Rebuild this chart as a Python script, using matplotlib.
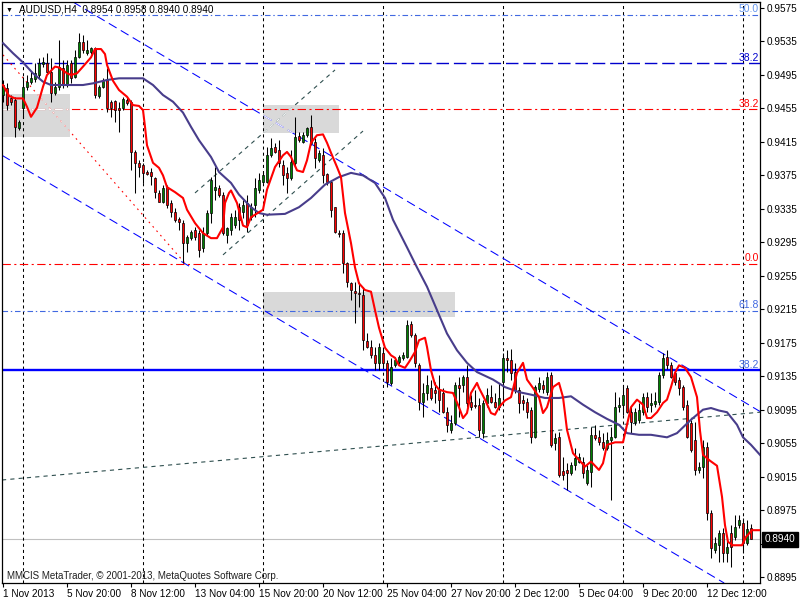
import matplotlib
matplotlib.use("Agg")
import matplotlib.pyplot as plt
import matplotlib.transforms as mtransforms
from matplotlib.patches import Rectangle

plt.rcParams["font.family"] = ["Liberation Sans", "DejaVu Sans"]
plt.rcParams["lines.scale_dashes"] = False

# --- AUDUSD H4 candles ---
opens = [
    .9471, .9479, .9467, .9465, .9432, .9456, .9481, .9487, .9490, .9495,
    .9508, .9509, .9499, .9473, .9481, .9503, .9483, .9509, .9493, .9516,
    .9534, .9521, .9522, .9527, .9470, .9481, .9489, .9463, .9464, .9456,
    .9456, .9465, .9463, .9403, .9390, .9387, .9379, .9379, .9372, .9354,
    .9343, .9361, .9342, .9331, .9323, .9318, .9294, .9300, .9310, .9306,
    .9288, .9306, .9330, .9358, .9360, .9352, .9304, .9310, .9316, .9337,
    .9331, .9342, .9325, .9340, .9358, .9367, .9367, .9399, .9409, .9405,
    .9387, .9378, .9372, .9390, .9422, .9415, .9423, .9433, .9415, .9393,
    .9399, .9377, .9367, .9337, .9306, .9306, .9270, .9246, .9237, .9234,
    .9232, .9177, .9170, .9160, .9151, .9163, .9151, .9127, .9148, .9152,
    .9157, .9158, .9197, .9184, .9148, .9104, .9115, .9121, .9119, .9119,
    .9115, .9092, .9071, .9079, .9125, .9125, .9134, .9104, .9101, .9101,
    .9067, .9103, .9110, .9104, .9098, .9128, .9157, .9154, .9140, .9119,
    .9107, .9104, .9095, .9062, .9120, .9125, .9116, .9137, .9055, .9062,
    .9022, .9023, .9019, .9029, .9033, .9033, .9007, .9021, .9065, .9062,
    .9056, .9049, .9059, .9062, .9098, .9101, .9121, .9092, .9080, .9083,
    .9092, .9110, .9101, .9102, .9104, .9137, .9158, .9148, .9139, .9131,
    .9122, .9101, .9079, .9059, .9023, .9027, .9050, .8972, .8927, .8933,
    .8948, .8924, .8948, .8943, .8957, .8960, .8936, .8954,
]
highs = [
    .9489, .9485, .9471, .9469, .9441, .9493, .9495, .9499, .9509, .9515,
    .9516, .9521, .9515, .9487, .9537, .9513, .9513, .9513, .9525, .9545,
    .9543, .9537, .9528, .9528, .9483, .9491, .9503, .9465, .9465, .9463,
    .9469, .9469, .9465, .9405, .9393, .9390, .9381, .9384, .9373, .9358,
    .9364, .9364, .9346, .9336, .9325, .9322, .9304, .9310, .9313, .9310,
    .9313, .9334, .9373, .9385, .9364, .9355, .9313, .9330, .9334, .9342,
    .9346, .9352, .9342, .9372, .9378, .9379, .9409, .9420, .9414, .9417,
    .9393, .9385, .9405, .9445, .9427, .9427, .9433, .9447, .9420, .9405,
    .9408, .9378, .9369, .9337, .9310, .9310, .9271, .9248, .9248, .9248,
    .9242, .9187, .9178, .9170, .9175, .9170, .9154, .9157, .9158, .9160,
    .9164, .9202, .9201, .9187, .9151, .9127, .9137, .9131, .9128, .9137,
    .9121, .9098, .9089, .9128, .9134, .9137, .9148, .9113, .9119, .9109,
    .9107, .9121, .9125, .9115, .9127, .9163, .9166, .9167, .9151, .9122,
    .9113, .9109, .9098, .9125, .9134, .9131, .9140, .9140, .9067, .9068,
    .9039, .9031, .9033, .9049, .9043, .9039, .9029, .9074, .9077, .9071,
    .9067, .9068, .9074, .9116, .9110, .9125, .9125, .9098, .9097, .9103,
    .9115, .9116, .9115, .9116, .9140, .9163, .9166, .9152, .9142, .9134,
    .9125, .9107, .9083, .9080, .9033, .9059, .9056, .8975, .8943, .8951,
    .8954, .8943, .8957, .8969, .8969, .8966, .8963, .8958,
]
lows = [
    .9463, .9453, .9459, .9421, .9429, .9444, .9477, .9484, .9487, .9491,
    .9505, .9497, .9463, .9471, .9477, .9479, .9481, .9485, .9491, .9515,
    .9521, .9519, .9520, .9467, .9467, .9479, .9451, .9445, .9439, .9427,
    .9453, .9459, .9381, .9354, .9373, .9366, .9375, .9364, .9348, .9343,
    .9342, .9336, .9325, .9319, .9310, .9270, .9283, .9298, .9298, .9277,
    .9283, .9304, .9318, .9346, .9349, .9304, .9294, .9304, .9312, .9310,
    .9324, .9307, .9322, .9325, .9354, .9366, .9366, .9397, .9402, .9385,
    .9364, .9354, .9369, .9385, .9415, .9414, .9421, .9411, .9384, .9391,
    .9366, .9364, .9325, .9306, .9301, .9258, .9242, .9226, .9199, .9218,
    .9166, .9169, .9157, .9142, .9142, .9146, .9122, .9125, .9146, .9150,
    .9154, .9157, .9182, .9146, .9095, .9086, .9107, .9107, .9103, .9092,
    .9091, .9068, .9067, .9077, .9086, .9116, .9098, .9095, .9097, .9062,
    .9061, .9098, .9103, .9097, .9095, .9107, .9140, .9131, .9115, .9091,
    .9095, .9085, .9055, .9061, .9116, .9115, .9113, .9050, .9047, .9015,
    .9011, .8999, .9017, .9023, .9031, .9013, .9005, .9003, .9059, .9053,
    .9047, .9047, .8987, .9061, .9092, .9089, .9091, .9067, .9077, .9079,
    .9089, .9092, .9092, .9098, .9101, .9133, .9144, .9133, .9125, .9113,
    .9095, .9061, .9044, .9017, .9019, .9013, .8963, .8918, .8924, .8913,
    .8913, .8913, .8907, .8939, .8954, .8924, .8933, .8940,
]
closes = [
    .9483, .9459, .9463, .9433, .9439, .9481, .9487, .9491, .9497, .9509,
    .9511, .9499, .9473, .9481, .9505, .9483, .9507, .9491, .9516, .9534,
    .9525, .9525, .9527, .9471, .9481, .9488, .9456, .9456, .9453, .9453,
    .9466, .9462, .9403, .9390, .9385, .9378, .9377, .9374, .9355, .9343,
    .9360, .9340, .9331, .9322, .9319, .9294, .9301, .9307, .9301, .9286,
    .9306, .9330, .9369, .9361, .9352, .9306, .9312, .9325, .9325, .9322,
    .9340, .9316, .9337, .9360, .9369, .9375, .9399, .9408, .9403, .9390,
    .9375, .9372, .9391, .9421, .9417, .9423, .9432, .9414, .9396, .9402,
    .9375, .9367, .9334, .9307, .9305, .9270, .9248, .9238, .9234, .9233,
    .9178, .9170, .9160, .9151, .9170, .9151, .9128, .9146, .9154, .9158,
    .9160, .9196, .9184, .9151, .9104, .9115, .9125, .9109, .9115, .9107,
    .9092, .9077, .9079, .9125, .9121, .9134, .9103, .9098, .9099, .9071,
    .9103, .9113, .9104, .9098, .9109, .9157, .9154, .9139, .9119, .9103,
    .9103, .9092, .9062, .9122, .9127, .9120, .9134, .9053, .9061, .9017,
    .9017, .9019, .9029, .9037, .9039, .9019, .9023, .9065, .9061, .9056,
    .9049, .9059, .9062, .9098, .9101, .9113, .9092, .9080, .9092, .9095,
    .9110, .9098, .9103, .9105, .9137, .9157, .9148, .9134, .9128, .9121,
    .9098, .9062, .9047, .9023, .9027, .9050, .8972, .8930, .8936, .8948,
    .8924, .8931, .8931, .8955, .8963, .8936, .8952, .8940,
]

# fast (red) and slow (purple) moving averages, sampled along the chart
fast_ma_bars = [0, 1.5, 3, 5, 6, 7, 8.5, 10, 11, 13, 14, 16, 17, 18.5, 20, 22, 23, 24.5,
                25.5, 26, 27.5, 29, 31, 32.5, 34, 35, 35.5, 36, 37.5, 39, 40, 41, 43, 45,
                46, 48, 50, 52, 53.5, 55, 55.5, 56.5, 57, 58.5, 60, 61, 62, 64, 65, 66,
                68, 70, 71, 72, 73.5, 75, 76, 77, 78.5, 80, 81, 82, 83.5, 84.5, 85.5, 87,
                88, 89, 90.5, 92, 93, 94, 95.5, 97, 98, 99, 100.5, 101.5, 103, 104, 105.5,
                106, 107, 108, 109, 111, 112.5, 114, 115, 116, 117, 118.5, 119, 120.5,
                122, 123, 124, 125.5, 127, 128.5, 130, 131, 132.5, 134, 135, 136, 137.5,
                139, 140, 141, 142.5, 144, 145.5, 147, 149, 150, 151, 153, 155, 156, 157,
                158.5, 160, 161, 162, 163.5, 165, 166, 167, 168, 169, 170.5, 172, 173.5,
                174.25, 175, 176.75, 178.5, 179.75, 180.5, 181.25, 182.5, 184.75, 185.75,
                187.25, 189.25]
fast_ma = [.9483, .9470, .9467, .9467, .9457, .9445, .9456, .9481, .9495, .9505, .9504,
           .9497, .9495, .9497, .9505, .9516, .9526, .9526, .9520, .9507, .9488, .9477,
           .9469, .9459, .9458, .9453, .9433, .9411, .9390, .9384, .9375, .9361, .9355,
           .9348, .9334, .9318, .9306, .9300, .9300, .9313, .9342, .9354, .9357, .9342,
           .9315, .9313, .9325, .9331, .9334, .9358, .9385, .9399, .9403, .9397, .9381,
           .9379, .9393, .9414, .9423, .9424, .9414, .9402, .9385, .9373, .9330, .9294,
           .9265, .9246, .9238, .9236, .9214, .9193, .9169, .9160, .9157, .9148, .9145,
           .9152, .9164, .9178, .9181, .9170, .9142, .9125, .9119, .9116, .9115, .9098,
           .9085, .9091, .9115, .9127, .9121, .9107, .9091, .9089, .9098, .9106, .9110,
           .9139, .9151, .9131, .9121, .9110, .9091, .9098, .9122, .9127, .9110, .9071,
           .9043, .9035, .9027, .9033, .9023, .9031, .9053, .9056, .9056, .9077, .9098,
           .9107, .9101, .9085, .9085, .9092, .9103, .9107, .9122, .9139, .9148, .9145,
           .9134, .9110, .9070, .9041, .9034, .9028, .8991, .8957, .8937, .8933, .8933,
           .8943, .8951, .8951]
slow_ma_bars = [0, 2.5, 5, 7.5, 10, 12, 16, 20, 22.5, 26, 29, 32.5, 35, 37.5, 40, 42.5,
                45, 47, 49, 52, 54, 57, 59, 62, 64, 66, 70.5, 74, 77, 80.5, 84, 87, 90,
                93, 95.5, 97.5, 101, 103.5, 106, 108.5, 111, 113.5, 116, 118.5, 122.5,
                125.5, 129, 132, 135.5, 139, 142, 145, 148, 151, 154, 156, 159, 162, 166,
                168.5, 172, 175, 177, 179, 181, 183.5, 185, 187, 189.25]
slow_ma = [.9533, .9521, .9510, .9497, .9487, .9483, .9483, .9483, .9485, .9489, .9491,
           .9491, .9491, .9483, .9471, .9463, .9450, .9433, .9417, .9397, .9379, .9366,
           .9352, .9337, .9330, .9328, .9329, .9337, .9348, .9364, .9373, .9378, .9375,
           .9366, .9348, .9322, .9289, .9265, .9242, .9214, .9186, .9166, .9151, .9140,
           .9131, .9122, .9116, .9113, .9109, .9109, .9111, .9101, .9092, .9084, .9077,
           .9067, .9065, .9065, .9062, .9067, .9083, .9095, .9097, .9094, .9092, .9077,
           .9062, .9053, .9041]

# axis labels
price_ticks = [.9575, .9535, .9495, .9455, .9415, .9375, .9335, .9295, .9255, .9215,
               .9175, .9135, .9095, .9055, .9015, .8975, .8935, .8895]
date_ticks = [0, 16, 32, 48, 64, 80, 96, 112, 128, 144, 160, 176]
date_labels = ["1 Nov 2013", "5 Nov 20:00", "8 Nov 12:00", "13 Nov 04:00",
               "15 Nov 20:00", "20 Nov 12:00", "25 Nov 04:00", "27 Nov 20:00",
               "2 Dec 12:00", "5 Dec 04:00", "9 Dec 20:00", "12 Dec 12:00"]
separator_bars = [5, 35, 65, 95, 125, 155, 185]
bid_price = 0.8940

# fibonacci levels drawn on the chart
fib_levels = [.9567, .9509, .9454, .9269, .9213, .9142]
fib_names = ["50.0", "38.2", "38.2", "0.0", "61.8", "38.2"]
fib_colors = ["#4169e1", "#0000cd", "#ff0000", "#ff0000", "#4169e1", "#0000ff"]
fib_label_colors = ["#6495ed", "#0000cd", "#ff0000", "#ff0000", "#4169e1", "#4169e1"]

# grey zones: bar from, bar to, price low, price high
zones = [(-2, 16.75, .9421, .9472), (65, 84, .9426, .9459), (65, 113, .9206, .9236)]

# trend lines (bar, price)
upper_channel = [(24.25, .9563), (188.5, .9095)]
lower_channel = [(-0.25, .9399), (174.25, .8905)]
fib_trend = [(0, .9519), (45.5, .9270)]
fan_a = [(48, .9354), (83, .9501)]
fan_b = [(55, .9280), (90, .9428)]
long_trend = [(-0.25, .9011), (189.25, .9092)]

bars = list(range(len(closes)))
body_low = [min(o, c) for o, c in zip(opens, closes)]
body_h = [max(abs(c - o), 0.00003) for o, c in zip(opens, closes)]
body_col = ["#008000" if c >= o else "#ff0000" for o, c in zip(opens, closes)]

fig = plt.figure(figsize=(8, 6), dpi=100)
ax = fig.add_axes([2 / 800, 17 / 600, 758 / 800, 581 / 600])
ax.set_xlim(-0.25, 189.25)
ax.set_ylim(0.88879, 0.95822)

zone_patches = []
for b0, b1, lo, hi in zones:
    r = Rectangle((b0, lo), b1 - b0, hi - lo, facecolor="#d9d9d9", edgecolor="none", zorder=1)
    ax.add_patch(r)
    zone_patches.append(r)

for b in separator_bars:
    ax.axvline(b, color="black", lw=0.75, ls=(0, (2.2, 2.2)), zorder=1.5)

ax.axhline(bid_price, color="#c0c0c0", lw=0.8, zorder=1.4)

fib_styles = [(0, (4, 2, 1, 2)), (0, (9, 3.5)), (0, (6, 2.5, 1.5, 2.5)),
              (0, (6, 2.5, 1.5, 2.5)), (0, (4, 2, 1, 2)), "-"]
fib_widths = [0.8, 1.0, 0.8, 0.8, 0.8, 1.7]
for lvl, name, col, lcol, st, w in zip(fib_levels, fib_names, fib_colors, fib_label_colors,
                                       fib_styles, fib_widths):
    ax.axhline(lvl, color=col, lw=w, ls=st, zorder=2)
    ax.text(188.9, lvl + 0.00008, name, ha="right", va="bottom", fontsize=7.5, color=lcol, zorder=5)

# red fib level turns white inside the first grey zone
w = ax.axhline(fib_levels[2], color="white", lw=0.8, ls=(0, (6, 2.5, 1.5, 2.5)), zorder=2.1)
w.set_clip_path(zone_patches[0])

chan_style = dict(color="#0000ff", lw=0.75, ls=(0, (6.5, 3.5)), zorder=2)
ax.axline(upper_channel[0], upper_channel[1], **chan_style)
ax.axline(lower_channel[0], lower_channel[1], **chan_style)
w = ax.axline(upper_channel[0], upper_channel[1], color="white", lw=0.75, ls=(0, (6.5, 3.5)), zorder=2.1)
w.set_clip_path(zone_patches[1])

xs, ys = zip(*fib_trend)
ax.plot(xs, ys, color="#ff0000", lw=0.8, ls=(0, (1.2, 3)), zorder=2)
w, = ax.plot(xs, ys, color="white", lw=0.8, ls=(0, (1.2, 3)), zorder=2.1)
w.set_clip_path(zone_patches[0])

for seg in (fan_a, fan_b, long_trend):
    xs, ys = zip(*seg)
    ax.plot(xs, ys, color="#2f4f4f", lw=0.8, ls=(0, (3, 3)), zorder=2)
xs, ys = zip(*fan_a)
w, = ax.plot(xs, ys, color="white", lw=0.8, ls=(0, (3, 3)), zorder=2.1)
w.set_clip_path(zone_patches[1])

# candles
ax.vlines(bars, lows, highs, colors="black", lw=0.75, zorder=3)
ax.bar(bars, body_h, bottom=body_low, width=0.7, color=body_col,
       edgecolor="black", linewidth=0.5, zorder=3.1)

ax.plot(slow_ma_bars, slow_ma, color="#483d8b", lw=1.5, zorder=4)
ax.plot(fast_ma_bars, fast_ma, color="#ff0000", lw=1.5, zorder=4.1)

# the bid box hides the price label right under it
ax.yaxis.tick_right()
ax.set_yticks(price_ticks)
ax.set_yticklabels(["" if abs(v - bid_price) < 0.0008 else f"{v:.4f}" for v in price_ticks])
ax.tick_params(axis="y", direction="out", length=3, width=0.8, pad=2, labelsize=7.2)
ax.set_xticks(date_ticks)
ax.set_xticklabels(date_labels, ha="left")
ax.tick_params(axis="x", direction="out", length=3, width=0.8, pad=1.5, labelsize=7.2)
for s in ax.spines.values():
    s.set_linewidth(0.9)
    s.set_color("black")

trans = mtransforms.blended_transform_factory(ax.transAxes, ax.transData)
ax.text(1.0058, bid_price, f"{bid_price:.4f}", transform=trans, color="white", fontsize=7.2,
        va="center", ha="left", clip_on=False, zorder=10,
        bbox=dict(boxstyle="square,pad=0.25", fc="black", ec="black"))

fig.text(6 / 800, 1 - 10 / 600, "\u25bc", fontsize=5, va="center", ha="left")
fig.text(19 / 800, 1 - 10 / 600, "AUDUSD,H4  0.8954 0.8958 0.8940 0.8940",
         fontsize=7.2, va="center", ha="left")
fig.text(7 / 800, 1 - 576 / 600, "MMCIS MetaTrader, \u00a9 2001-2013, MetaQuotes Software Corp.",
         fontsize=7, va="center", ha="left", color="#202020")

fig.savefig("out.png", dpi=100)
print("Saved: out.png")
